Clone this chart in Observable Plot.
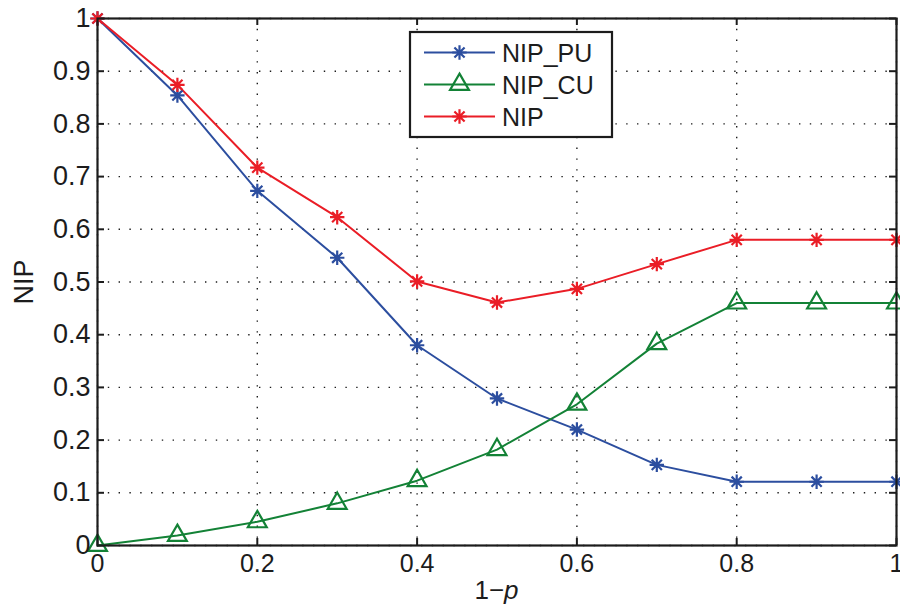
<!DOCTYPE html>
<html>
<head>
<meta charset="utf-8">
<script src="https://cdn.jsdelivr.net/npm/d3@7"></script>
<script src="https://cdn.jsdelivr.net/npm/@observablehq/plot@0.6"></script>
<style>
  html, body { margin: 0; padding: 0; background: #fff; }
  #chart { width: 900px; height: 606px; }
</style>
</head>
<body>
<div id="chart"></div>
<script>
// Probability axis (1 - p)
const xs = [0, 0.1, 0.2, 0.3, 0.4, 0.5, 0.6, 0.7, 0.8, 0.9, 1.0];

// NIP components per value of 1 - p
const nipPU = [1.0, 0.854, 0.673, 0.546, 0.380, 0.279, 0.220, 0.153, 0.121, 0.121, 0.121];
const nipCU = [0.0, 0.019, 0.045, 0.080, 0.123, 0.182, 0.268, 0.383, 0.460, 0.460, 0.460];
const nip   = [1.0, 0.874, 0.717, 0.623, 0.501, 0.461, 0.487, 0.534, 0.580, 0.580, 0.580];

const seriesNames  = ["NIP_PU", "NIP_CU", "NIP"];
const seriesColors = ["#2c4e9f", "#138236", "#ea1d26"];
const seriesValues = [nipPU, nipCU, nip];

const xTicks = [0, 0.2, 0.4, 0.6, 0.8, 1];
const yTicks = [0, 0.1, 0.2, 0.3, 0.4, 0.5, 0.6, 0.7, 0.8, 0.9, 1];
const xTickLabels = ["0", "0.2", "0.4", "0.6", "0.8", "1"];
const yTickLabels = ["0", "0.1", "0.2", "0.3", "0.4", "0.5", "0.6", "0.7", "0.8", "0.9", "1"];

const rows = seriesNames.flatMap((name, i) =>
  xs.map((x, j) => ({series: name, x, y: seriesValues[i][j]}))
);

// MATLAB-style '*' marker: a plus and a cross overlaid
const asterisk = {
  draw(ctx, size) {
    const r = Math.sqrt(size / Math.PI);
    const d = r * Math.SQRT1_2;
    ctx.moveTo(-r, 0); ctx.lineTo(r, 0);
    ctx.moveTo(0, -r); ctx.lineTo(0, r);
    ctx.moveTo(-d, -d); ctx.lineTo(d, d);
    ctx.moveTo(-d, d); ctx.lineTo(d, -d);
  }
};

const W = 900, H = 606;
const mL = 97, mR = 4, mT = 18, mB = 61;
const innerW = W - mL - mR, innerH = H - mT - mB;
const tickLen = 7;
const ink = "#1c1c1c";
const font = "'Liberation Sans', Arial, Helvetica, sans-serif";
const starR = 7.2, triR = 7;

const color = {domain: seriesNames, range: seriesColors};

const plot = Plot.plot({
  width: W,
  height: H,
  marginLeft: mL,
  marginRight: mR,
  marginTop: mT,
  marginBottom: mB,
  style: {fontFamily: font, fontSize: "25px", color: ink, background: "#fff", overflow: "visible"},
  x: {domain: [0, 1]},
  y: {domain: [0, 1]},
  color,
  marks: [
    // dotted grid
    Plot.ruleX(xTicks, {x: d => d, stroke: ink, strokeWidth: 1.4, strokeDasharray: "1.4,9.4"}),
    Plot.ruleY(yTicks, {y: d => d, stroke: ink, strokeWidth: 1.4, strokeDasharray: "1.4,9.4"}),
    // inward tick marks on all four sides
    Plot.tickX(xTicks, {x: d => d, insetTop: innerH - tickLen, stroke: ink, strokeWidth: 2}),
    Plot.tickX(xTicks, {x: d => d, insetBottom: innerH - tickLen, stroke: ink, strokeWidth: 2}),
    Plot.tickY(yTicks, {y: d => d, insetRight: innerW - tickLen, stroke: ink, strokeWidth: 2}),
    Plot.tickY(yTicks, {y: d => d, insetLeft: innerW - tickLen, stroke: ink, strokeWidth: 2}),
    // series lines
    Plot.line(rows, {x: "x", y: "y", z: "series", stroke: "series", strokeWidth: 2}),
    // markers
    Plot.dot(rows.filter(d => d.series !== "NIP_CU"), {
      x: "x", y: "y", stroke: "series", fill: "none", symbol: asterisk, r: starR, strokeWidth: 2.2
    }),
    Plot.dot(rows.filter(d => d.series === "NIP_CU"), {
      x: "x", y: "y", stroke: "series", fill: "none", symbol: "triangle", r: triR, strokeWidth: 2.2
    }),
    Plot.frame({stroke: ink, strokeWidth: 2.2}),
    Plot.axisX(xTicks, {
      tickSize: 0, tickPadding: 9, fontSize: 25,
      tickFormat: (d, i) => xTickLabels[i], label: null
    }),
    Plot.axisY(yTicks, {
      tickSize: 0, tickPadding: 7, fontSize: 27,
      tickFormat: (d, i) => yTickLabels[i],
      label: "NIP", labelAnchor: "center", labelArrow: "none", labelOffset: 84
    })
  ]
});

document.getElementById("chart").appendChild(plot);

// x-axis title with italic p, and the legend box
const svg = d3.select(plot);
const xScale = plot.scale("x");
const xt = svg.append("text")
  .attr("x", xScale.apply(0.5))
  .attr("y", 599)
  .attr("text-anchor", "middle")
  .attr("font-family", font)
  .attr("font-size", 26)
  .attr("fill", ink);
xt.append("tspan").text("1\u2212");
xt.append("tspan").attr("font-style", "italic").text("p");

const lg = svg.append("g").attr("transform", "translate(410,32)");
lg.append("rect")
  .attr("width", 202).attr("height", 105)
  .attr("fill", "#fff").attr("stroke", ink).attr("stroke-width", 2.2);

const rowY = [20.5, 52.5, 84.5];
const starPath = d3.symbol(asterisk, starR * starR * Math.PI)();
const triPath = d3.symbol(d3.symbolTriangle, triR * triR * Math.PI)();
seriesNames.forEach((name, i) => {
  const g = lg.append("g").attr("transform", `translate(0,${rowY[i]})`);
  g.append("line")
    .attr("x1", 14).attr("x2", 85).attr("y1", 0).attr("y2", 0)
    .attr("stroke", seriesColors[i]).attr("stroke-width", 2);
  g.append("path")
    .attr("d", name === "NIP_CU" ? triPath : starPath)
    .attr("transform", "translate(49.5,0)")
    .attr("fill", "none").attr("stroke", seriesColors[i]).attr("stroke-width", 2.2);
  g.append("text")
    .attr("x", 92).attr("y", 0).attr("dy", "0.36em")
    .attr("text-anchor", "start")
    .attr("font-family", font).attr("font-size", 25).attr("fill", ink)
    .text(name);
});
</script>
</body>
</html>
